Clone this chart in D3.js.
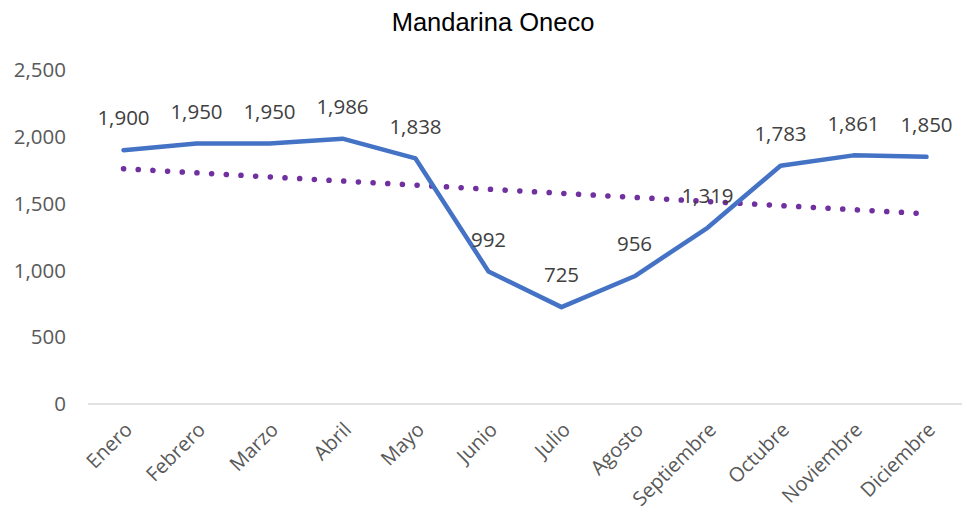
<!DOCTYPE html>
<html>
<head>
<meta charset="utf-8">
<script src="https://cdn.jsdelivr.net/npm/d3@7"></script>
<style>
  body { margin: 0; background: #fff; }
  text { font-family: "Open Sans", "DejaVu Sans", sans-serif; }
</style>
</head>
<body>
<div id="chart"></div>
<script>
// chart data
var months = ["Enero", "Febrero", "Marzo", "Abril", "Mayo", "Junio", "Julio",
              "Agosto", "Septiembre", "Octubre", "Noviembre", "Diciembre"];
var values = [1900, 1950, 1950, 1986, 1838, 992, 725, 956, 1319, 1783, 1861, 1850];
// linear trend line, first and last month
var trendEnds = [1761, 1424];
var yTicks = [0, 500, 1000, 1500, 2000, 2500];

var width = 963, height = 517;

var svg = d3.select("#chart")
  .append("svg")
    .attr("width", width)
    .attr("height", height);

/** title */
svg.append("text")
  .attr("x", 493)
  .attr("y", 31)
  .attr("text-anchor", "middle")
  .style("font-family", "'Liberation Sans', Arial, sans-serif")
  .style("font-size", "25.5px")
  .style("fill", "#000")
  .text("Mandarina Oneco");

/** scales */
var x = d3.scalePoint()
  .domain(months)
  .range([87, 963])
  .padding(0.5);

var y = d3.scaleLinear()
  .domain([0, 2500])
  .range([404, 70]);

/** y axis labels, no line */
svg.append("g")
  .selectAll("text")
  .data(yTicks)
  .enter()
  .append("text")
    .attr("x", 66)
    .attr("y", function(d) { return y(d); })
    .attr("dy", "0.35em")
    .attr("text-anchor", "end")
    .style("font-size", "20.5px")
    .style("fill", "#595959")
    .text(function(d) { return d3.format(",")(d); });

/** x axis line */
svg.append("line")
  .attr("x1", 88).attr("x2", 962)
  .attr("y1", y(0)).attr("y2", y(0))
  .attr("stroke", "#d9d9d9")
  .attr("stroke-width", 1.5);

/** x axis labels rotated */
svg.append("g")
  .selectAll("text")
  .data(months)
  .enter()
  .append("text")
    .attr("transform", function(d) {
      return "translate(" + (x(d) + 5) + "," + 426 + ") rotate(-45)";
    })
    .attr("text-anchor", "end")
    .attr("dy", "0.35em")
    .style("font-size", "20px")
    .style("fill", "#595959")
    .text(function(d) { return d; });

/** trend line */
svg.append("line")
  .attr("x1", x(months[0]))
  .attr("y1", y(trendEnds[0]))
  .attr("x2", x(months[months.length - 1]))
  .attr("y2", y(trendEnds[1]))
  .attr("stroke", "#7030A0")
  .attr("stroke-width", 5.5)
  .attr("stroke-linecap", "round")
  .attr("stroke-dasharray", "0.1 14.6");

/** main line */
var line = d3.line()
  .x(function(d, i) { return x(months[i]); })
  .y(function(d) { return y(d); });

svg.append("path")
  .datum(values)
  .attr("d", line)
  .attr("fill", "none")
  .attr("stroke", "#4472C4")
  .attr("stroke-width", 4.5)
  .attr("stroke-linejoin", "round")
  .attr("stroke-linecap", "round");

/** data labels */
svg.append("g")
  .selectAll("text")
  .data(values)
  .enter()
  .append("text")
    .attr("x", function(d, i) { return x(months[i]); })
    .attr("y", function(d) { return y(d) - 32; })
    .attr("dy", "0.35em")
    .attr("text-anchor", "middle")
    .style("font-size", "20.5px")
    .style("fill", "#404040")
    .text(function(d) { return d3.format(",")(d); });
</script>
</body>
</html>
